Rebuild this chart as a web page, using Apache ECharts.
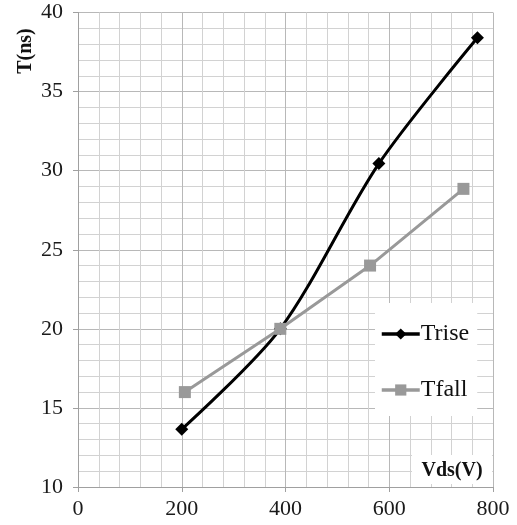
<!DOCTYPE html>
<html>
<head>
<meta charset="utf-8">
<script src="https://cdn.jsdelivr.net/npm/echarts@6/dist/echarts.min.js"></script>
<style>html,body{margin:0;padding:0;background:#fff}#c{width:517px;height:525px}</style>
</head>
<body>
<div id="c"></div>
<script>
var seriesNames = ['Trise', 'Tfall'];
var triseX = [200, 390, 580, 770];
var triseY = [13.65, 20.0, 30.45, 38.4];
var tfallX = [206, 390, 563, 743];
var tfallY = [16.0, 20.0, 24.0, 28.85];
var xTitle = 'Vds(V)';
var yTitle = 'T(ns)';

function pairs(xs, ys) { return xs.map(function (x, i) { return [x, ys[i]]; }); }

var chart = echarts.init(document.getElementById('c'));
var serif = 'Liberation Serif, Times New Roman, serif';
chart.setOption({
  animation: false,
  backgroundColor: '#fff',
  grid: { left: 78, right: 24, top: 12.5, bottom: 38, containLabel: false },
  xAxis: {
    type: 'value', min: 0, max: 800, interval: 200,
    axisLine: { show: true, lineStyle: { color: '#a0a0a0', width: 1 } },
    axisTick: { show: true, length: 5, lineStyle: { color: '#a0a0a0' } },
    axisLabel: { margin: 11, fontFamily: serif, fontSize: 22, color: '#1a1a1a' },
    splitLine: { show: true, lineStyle: { color: '#b8b8b8', width: 1 } },
    minorTick: { show: false, splitNumber: 5 },
    minorSplitLine: { show: true, lineStyle: { color: '#d2d2d2', width: 1 } }
  },
  yAxis: {
    type: 'value', min: 10, max: 40, interval: 5,
    axisLine: { show: true, lineStyle: { color: '#a0a0a0', width: 1 } },
    axisTick: { show: true, length: 5, lineStyle: { color: '#a0a0a0' } },
    axisLabel: { margin: 15, fontFamily: serif, fontSize: 22, color: '#1a1a1a' },
    splitLine: { show: true, lineStyle: { color: '#b8b8b8', width: 1 } },
    minorTick: { show: false, splitNumber: 5 },
    minorSplitLine: { show: true, lineStyle: { color: '#d2d2d2', width: 1 } }
  },
  legend: {
    orient: 'vertical',
    left: 375, top: 303,
    backgroundColor: '#fff',
    padding: [19, 8, 14, 5],
    itemGap: 32,
    itemWidth: 38, itemHeight: 14,
    lineStyle: { width: 3.5 },
    textStyle: { fontFamily: serif, fontSize: 24, color: '#111', padding: [0, 0, 0, -4] },
    data: seriesNames
  },
  graphic: [
    {
      type: 'text', x: 26, y: 51, rotation: Math.PI / 2, z: 10,
      style: { text: yTitle, font: 'bold 20px ' + serif, fill: '#111', align: 'center', verticalAlign: 'middle' }
    },
    {
      type: 'rect', shape: { x: 412, y: 455, width: 80, height: 29 }, z: 5,
      style: { fill: '#fff' }
    },
    {
      type: 'text', x: 452, y: 471, z: 10,
      style: { text: xTitle, font: 'bold 20px ' + serif, fill: '#111', align: 'center', verticalAlign: 'middle' }
    }
  ],
  series: [
    {
      name: seriesNames[0], type: 'line', data: pairs(triseX, triseY),
      smooth: 0.3,
      symbol: 'diamond', symbolSize: 13,
      lineStyle: { color: '#000', width: 3 },
      itemStyle: { color: '#000' },
      z: 3
    },
    {
      name: seriesNames[1], type: 'line', data: pairs(tfallX, tfallY),
      symbol: 'rect', symbolSize: 12,
      lineStyle: { color: '#999', width: 3 },
      itemStyle: { color: '#999' },
      z: 4
    }
  ]
});
</script>
</body>
</html>
